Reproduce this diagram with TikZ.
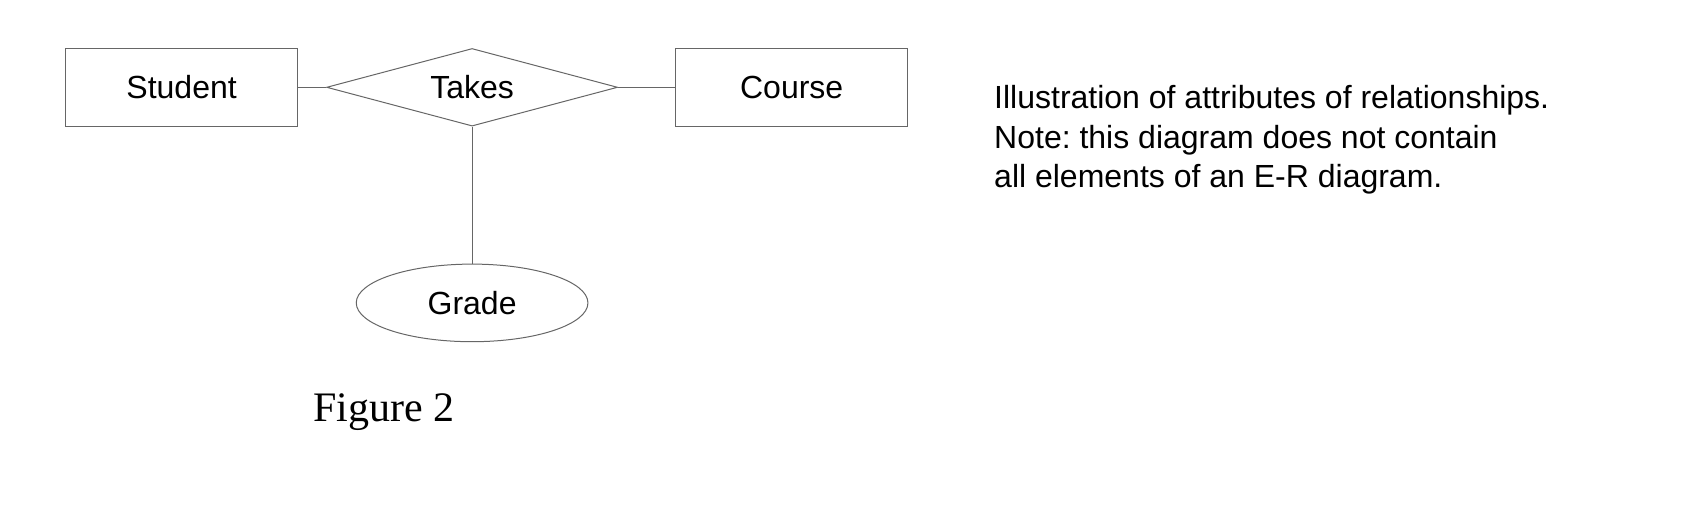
\documentclass[tikz,border=0pt]{standalone}
\usepackage{fontspec}
\setmainfont{Liberation Serif}
\newfontfamily\arialfont{Liberation Sans}
\usetikzlibrary{shapes.geometric}
\frenchspacing
\tikzset{
  erline/.style={draw=black!60, line width=1pt},
  entity/.style={erline, rectangle, minimum width=231.7pt, minimum height=77.6pt, inner sep=0pt, font=\arialfont\fontsize{32}{38}\selectfont},
  relation/.style={erline, diamond, aspect=3.75, minimum width=291pt, minimum height=77.6pt, inner sep=0pt, font=\arialfont\fontsize{32}{38}\selectfont},
  attribute/.style={erline, ellipse, minimum width=231.7pt, minimum height=77.6pt, inner sep=0pt, font=\arialfont\fontsize{32}{38}\selectfont},
  conn/.style={draw=black!60, line width=1pt}
}
\begin{document}
\begin{tikzpicture}[x=1pt,y=1pt]
\useasboundingbox (0,0) rectangle (1690,520);
\node[entity] (student) at (181.6,432.7) {Student};
\node[relation] (takes) at (472.1,432.7) {Takes};
\node[entity] (course) at (791.7,432.7) {Course};
\node[attribute] (grade) at (472.1,217.1) {Grade};
\draw[conn] (student.east) -- (takes.west);
\draw[conn] (takes.east) -- (course.west);
\draw[conn] (takes.south) -- (grade.north);
\node[anchor=base west, inner sep=0pt, font=\fontsize{42}{48}\selectfont] (fig) at (313,99) {Figure 2};
\node[anchor=base west, inner sep=0pt, align=left, font=\arialfont\fontsize{32}{39.4}\selectfont] (note) at (994,332.5) {Illustration of attributes of relationships.\\Note: this diagram does not contain\\all elements of an E-R diagram.};
\end{tikzpicture}
\end{document}
